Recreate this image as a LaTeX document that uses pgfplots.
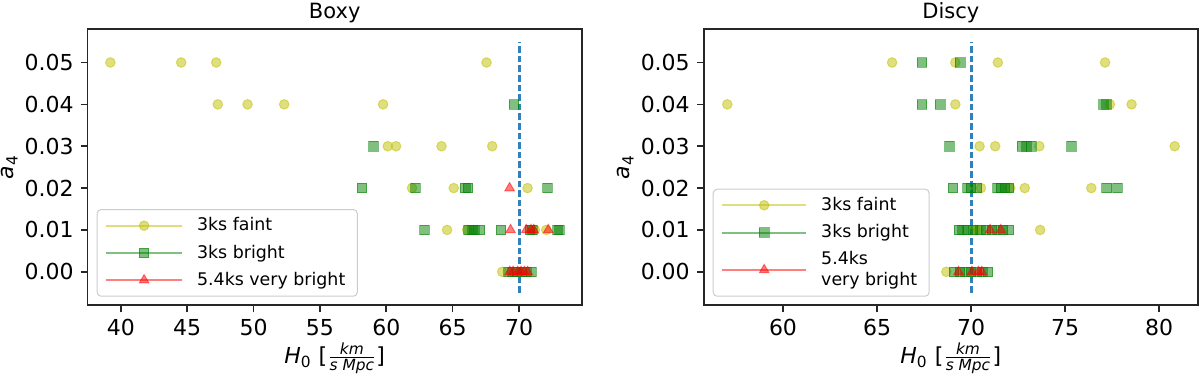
\documentclass[border=0pt]{standalone}
\usepackage{fontspec}
\setmainfont{DejaVu Sans}
\usepackage{amsmath}
\usepackage{pgfplots}
\pgfplotsset{compat=1.18}
\definecolor{ycol}{RGB}{191,191,0}
\definecolor{gcol}{RGB}{0,128,0}
\definecolor{rcol}{RGB}{255,0,0}
\definecolor{tabblue}{HTML}{1F77B4}
\definecolor{legframe}{RGB}{204,204,204}
\def\hlen{38}\def\hmid{19}
\pgfplotsset{
  mplaxis/.style={
    scale only axis, width=247pt, height=138.15pt,
    ymin=-0.008, ymax=0.058,
    ytick={0,0.01,0.02,0.03,0.04,0.05},
    scaled y ticks=false, scaled x ticks=false,
    axis line style={black!85, line width=0.8pt},
    tick align=outside, tick pos=left,
    major tick length=3.5pt,
    every tick/.style={black!85, line width=0.8pt},
    tick label style={font=\fontsize{11}{13}\selectfont},
    /pgf/number format/assume math mode=true,
    yticklabel style={/pgf/number format/.cd, fixed, fixed zerofill, precision=2},
    title style={font=\fontsize{10.5}{12}\selectfont, at={(0.5,1)}, anchor=base, yshift=-0.8pt},
    xlabel style={font=\fontsize{11}{13}\selectfont, at={(axis description cs:0.5,0)}, anchor=base, yshift=-29pt},
    ylabel style={font=\fontsize{11}{13}\selectfont, at={(axis description cs:-0.1583,0.5)}, anchor=center, inner sep=0pt},
    xlabel={\textit{H}\textsubscript{0} [$\frac{\textit{km}}{\textit{s Mpc}}$]},
    ylabel={\textit{a}\textsubscript{4}},
    legend cell align=left,
    legend style={at={(0.018,0.031)}, anchor=south west, draw=legframe, line width=0.5pt,
      rounded corners=2pt, fill=white, font=\fontsize{8.7}{10.2}\selectfont,
      inner xsep=4pt, inner ysep=2pt, row sep=1.5pt, column sep=5pt,
      nodes={align=left}},
  },
  faint/.style={only marks, mark=*, color=ycol, mark size=2.4pt,
    mark options={fill=ycol, draw=ycol, fill opacity=0.5, draw opacity=0.5, line width=0.5pt},
    legend image code/.code={
      \draw[ycol, draw opacity=0.5, line width=1pt] (0pt,0pt) -- (\hlen pt,0pt);
      \draw[ycol, fill=ycol, fill opacity=0.5, draw opacity=0.5, line width=0.5pt] (\hmid pt,0pt) circle (2.4pt);}},
  bright/.style={only marks, mark=square*, color=gcol, mark size=2.4pt,
    mark options={fill=gcol, draw=gcol, fill opacity=0.5, draw opacity=0.5, line width=0.5pt},
    legend image code/.code={
      \draw[gcol, draw opacity=0.5, line width=1pt] (0pt,0pt) -- (\hlen pt,0pt);
      \draw[gcol, fill=gcol, fill opacity=0.5, draw opacity=0.5, line width=0.5pt, sharp corners] (\hmid pt-2.4pt,-2.4pt) rectangle (\hmid pt+2.4pt,2.4pt);}},
  vbright/.style={only marks, mark=triangle*, color=rcol, mark size=2.75pt,
    mark options={fill=rcol, draw=rcol, fill opacity=0.5, draw opacity=0.5, line width=0.5pt},
    legend image code/.code={
      \draw[rcol, draw opacity=0.5, line width=1pt] (0pt,0pt) -- (\hlen pt,0pt);
      \draw[rcol, fill=rcol, fill opacity=0.5, draw opacity=0.5, line width=0.5pt, sharp corners] (\hmid pt,2.75pt) -- (\hmid pt-2.38pt,-1.375pt) -- (\hmid pt+2.38pt,-1.375pt) -- cycle;}},
  h0line/.style={tabblue!92!white, line width=1.5pt, dash pattern=on 3.3pt off 1.5pt, forget plot},
}

% ---------------- data ----------------
\pgfplotstableread{
x y
39.22 0.05
44.55 0.05
47.19 0.05
67.55 0.05
47.31 0.04
49.55 0.04
52.31 0.04
59.76 0.04
60.11 0.03
60.74 0.03
64.16 0.03
67.98 0.03
61.94 0.02
65.08 0.02
70.64 0.02
64.58 0.01
66.09 0.01
71.20 0.01
72.05 0.01
68.73 0.00
}\boxyfaint
\pgfplotstableread{
x y
69.61 0.04
59.03 0.03
58.17 0.02
62.19 0.02
65.95 0.02
66.15 0.02
72.13 0.02
62.87 0.01
66.21 0.01
66.50 0.01
66.65 0.01
67.04 0.01
68.63 0.01
70.82 0.01
71.00 0.01
72.90 0.01
73.05 0.01
69.20 0.00
69.50 0.00
69.85 0.00
70.20 0.00
70.55 0.00
70.95 0.00
}\boxybright
\pgfplotstableread{
x y
69.29 0.02
69.36 0.01
70.54 0.01
70.90 0.01
71.10 0.01
72.20 0.01
69.30 0.00
69.55 0.00
69.90 0.00
70.15 0.00
70.40 0.00
70.65 0.00
}\boxyvbright
\pgfplotstableread{
x y
65.80 0.05
69.16 0.05
71.42 0.05
77.12 0.05
57.04 0.04
69.16 0.04
77.38 0.04
78.53 0.04
70.45 0.03
71.28 0.03
73.63 0.03
80.82 0.03
70.52 0.02
72.08 0.02
72.85 0.02
76.39 0.02
70.22 0.01
70.39 0.01
73.67 0.01
68.68 0.00
}\discyfaint
\pgfplotstableread{
x y
67.39 0.05
69.42 0.05
67.39 0.04
68.36 0.04
77.03 0.04
77.20 0.04
68.85 0.03
72.70 0.03
72.95 0.03
73.20 0.03
75.33 0.03
69.03 0.02
69.80 0.02
70.00 0.02
70.30 0.02
71.40 0.02
71.60 0.02
71.80 0.02
72.00 0.02
77.21 0.02
77.79 0.02
69.35 0.01
69.55 0.01
69.80 0.01
70.10 0.01
70.50 0.01
70.80 0.01
71.10 0.01
71.40 0.01
71.70 0.01
72.00 0.01
69.10 0.00
69.40 0.00
69.70 0.00
70.00 0.00
70.30 0.00
70.60 0.00
70.90 0.00
}\discybright
\pgfplotstableread{
x y
71.01 0.01
71.58 0.01
69.33 0.00
70.04 0.00
70.39 0.00
70.57 0.00
}\discyvbright

\begin{document}
\begin{tikzpicture}
\useasboundingbox (0,0) rectangle (600pt,187.5pt);
\def\hlen{38}\def\hmid{19}
\begin{axis}[mplaxis, at={(43.85pt,34.85pt)}, anchor=south west,
  xmin=37.51, xmax=74.72, xtick={40,45,...,70}, title={Boxy}]
\addplot[faint] table {\boxyfaint};
\addlegendentry{3ks faint}
\addplot[bright] table {\boxybright};
\addlegendentry{3ks bright}
\addplot[vbright] table {\boxyvbright};
\addlegendentry{5.4ks very bright}
\addplot[h0line] coordinates {(70,-0.005) (70,0.055)};
\end{axis}
\def\hlen{42}\def\hmid{21}
\begin{axis}[mplaxis, at={(351.9pt,34.85pt)}, anchor=south west,
  xmin=55.79, xmax=82.05, xtick={60,65,...,80}, title={Discy}]
\addplot[faint] table {\discyfaint};
\addlegendentry{3ks faint}
\addplot[bright] table {\discybright};
\addlegendentry{3ks bright}
\addplot[vbright] table {\discyvbright};
\addlegendentry{5.4ks\\very bright}
\addplot[h0line] coordinates {(70,-0.005) (70,0.055)};
\end{axis}
\end{tikzpicture}
\end{document}
